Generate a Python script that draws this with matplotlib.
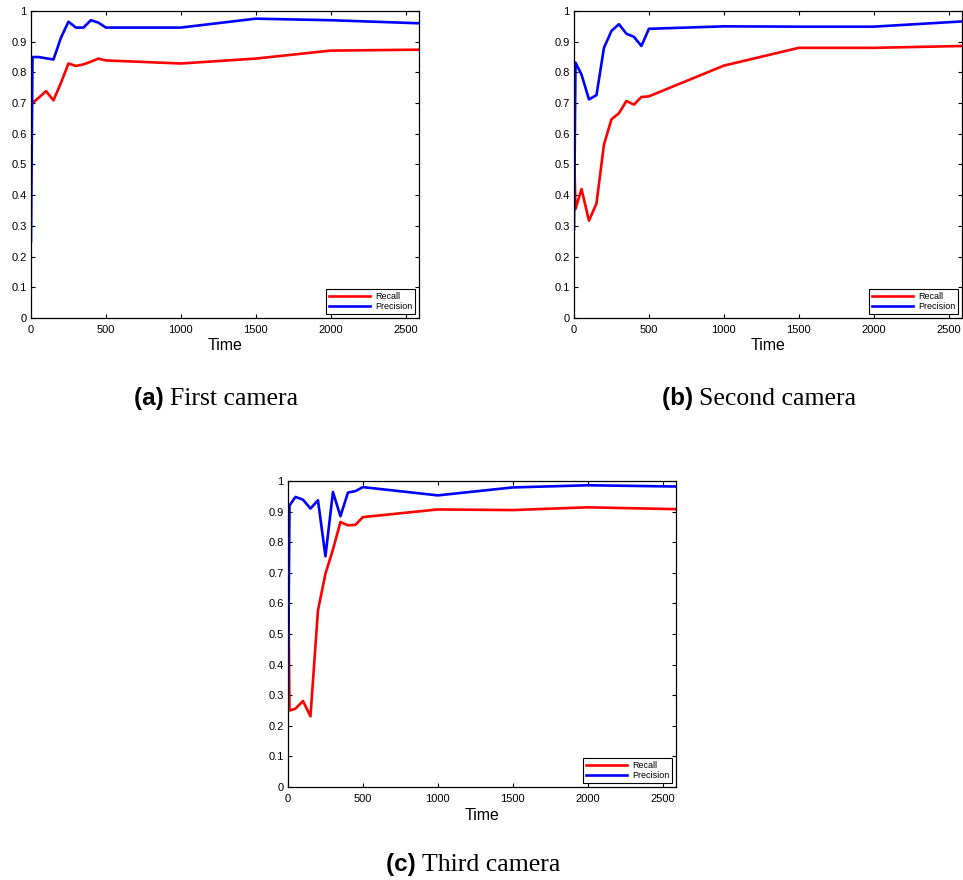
import matplotlib
matplotlib.use("Agg")
import matplotlib.pyplot as plt

plt.rcParams['font.family'] = ['Liberation Sans', 'DejaVu Sans']

time = [0, 10, 50, 100, 150, 200, 250, 300, 350, 400, 450, 500, 1000, 1500, 2000, 2590]

recall_a = [0.69, 0.70, 0.717, 0.739, 0.709, 0.766, 0.829, 0.821, 0.826, 0.835, 0.845, 0.839, 0.829, 0.845, 0.871, 0.874]
precision_a = [0.25, 0.85, 0.85, 0.846, 0.842, 0.913, 0.965, 0.946, 0.946, 0.970, 0.962, 0.946, 0.946, 0.975, 0.970, 0.960]

recall_b = [0.554, 0.355, 0.420, 0.317, 0.373, 0.565, 0.647, 0.667, 0.707, 0.695, 0.720, 0.722, 0.822, 0.880, 0.880, 0.886]
precision_b = [0.288, 0.832, 0.793, 0.712, 0.726, 0.880, 0.935, 0.957, 0.926, 0.916, 0.886, 0.942, 0.950, 0.949, 0.949, 0.966]

recall_c = [0.757, 0.250, 0.256, 0.281, 0.231, 0.577, 0.697, 0.776, 0.866, 0.855, 0.857, 0.882, 0.907, 0.905, 0.914, 0.908]
precision_c = [0.300, 0.920, 0.948, 0.939, 0.910, 0.937, 0.754, 0.964, 0.885, 0.962, 0.967, 0.980, 0.953, 0.979, 0.986, 0.982]

xticks = [0, 500, 1000, 1500, 2000, 2500]
yticks = [0, 0.1, 0.2, 0.3, 0.4, 0.5, 0.6, 0.7, 0.8, 0.9, 1]
ytick_labels = ["0", "0.1", "0.2", "0.3", "0.4", "0.5", "0.6", "0.7", "0.8", "0.9", "1"]

captions = [("(a)", "First camera"), ("(b)", "Second camera"), ("(c)", "Third camera")]

W, H = 963, 880
fig = plt.figure(figsize=(W / 100, H / 100), dpi=100)

def px_axes(l, t, r, b):
    return fig.add_axes([l / W, 1 - b / H, (r - l) / W, (b - t) / H])

axes_px = [(31, 11, 419, 318), (574, 11, 962, 318), (288, 481, 676, 787)]
data = [(recall_a, precision_a), (recall_b, precision_b), (recall_c, precision_c)]
cap_pos = [(216, 405), (759, 405), (473, 871)]

for (l, t, r, b), (rec, prec) in zip(axes_px, data):
    ax = px_axes(l, t, r, b)
    ax.plot(time, rec, color='#ff0000', lw=1.9, label='Recall')
    ax.plot(time, prec, color='#0000ff', lw=1.9, label='Precision')
    ax.set_xlim(0, 2590)
    ax.set_ylim(0, 1)
    ax.set_xticks(xticks)
    ax.set_xticklabels([str(v) for v in xticks])
    ax.set_yticks(yticks)
    ax.set_yticklabels(ytick_labels)
    ax.tick_params(direction='in', top=True, right=True, labelsize=8, length=3)
    ax.tick_params(axis='x', pad=5)
    ax.tick_params(axis='y', pad=3)
    for s in ax.spines.values():
        s.set_linewidth(0.9)
    ax.set_xlabel('Time', fontsize=11.5)
    ax.xaxis.set_label_coords(0.5, -28 / (b - t))
    ax.xaxis.label.set_va('center')
    leg = ax.legend(loc='lower right', fontsize=6.5, frameon=True, fancybox=False,
                    edgecolor='black', framealpha=1, handlelength=4.5,
                    borderpad=0.35, labelspacing=0.15, handletextpad=0.6,
                    borderaxespad=0.4)
    leg.get_frame().set_linewidth(0.8)

cap_texts = []
for (lab, txt), (cx, cy) in zip(captions, cap_pos):
    a = fig.text(cx / W, 1 - cy / H, lab + " ", fontsize=17.5, fontweight='bold',
                 family=['Liberation Sans'], ha='right', va='baseline')
    bt = fig.text(cx / W, 1 - cy / H, txt, fontsize=18.5, family=['Liberation Serif'],
                  ha='left', va='baseline')
    cap_texts.append((a, bt))

fig.canvas.draw()
r = fig.canvas.get_renderer()
for (a, bt), (cx, cy) in zip(cap_texts, cap_pos):
    wa = a.get_window_extent(r).width
    wb = bt.get_window_extent(r).width
    x0 = cx - (wa + wb) / 2
    a.set_position(((x0 + wa) / W, 1 - cy / H))
    bt.set_position(((x0 + wa) / W, 1 - cy / H))

fig.savefig('out.png', dpi=100)
